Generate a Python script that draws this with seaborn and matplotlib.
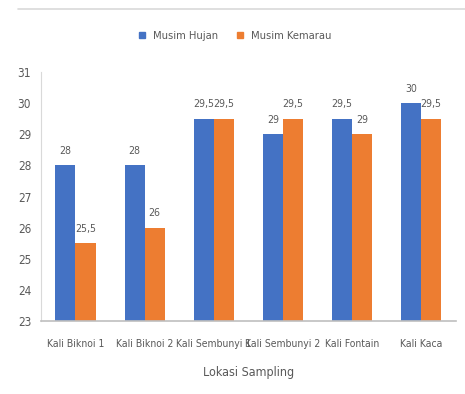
import matplotlib
matplotlib.use("Agg")
import matplotlib.pyplot as plt
import seaborn as sns
import pandas as pd
from matplotlib.lines import Line2D

categories = ["Kali Biknoi 1", "Kali Biknoi 2", "Kali Sembunyi 1", "Kali Sembunyi 2", "Kali Fontain", "Kali Kaca"]
hujan = [28, 28, 29.5, 29, 29.5, 30]
kemarau = [25.5, 26, 29.5, 29.5, 29, 29.5]
series = ["Musim Hujan", "Musim Kemarau"]
yticks = [23, 24, 25, 26, 27, 28, 29, 30, 31]

df = pd.DataFrame({
    "Lokasi": categories * 2,
    "Nilai": hujan + kemarau,
    "Musim": [series[0]] * len(categories) + [series[1]] * len(categories),
})

sns.set_style("white")
plt.rcParams['font.family'] = ['DejaVu Sans']
plt.rcParams['font.stretch'] = 'condensed'
txt = "#595959"

fig = plt.figure(figsize=(4.65, 3.94), dpi=100)
ax = fig.add_axes([0.088, 0.185, 0.892, 0.632])
sns.barplot(data=df, x="Lokasi", y="Nilai", hue="Musim", ax=ax,
            palette=["#4472C4", "#ED7D31"], width=0.58, saturation=1, legend=False,
            linewidth=0, edgecolor="none")

ax.set_ylim(23, 31)
ax.set_yticks(yticks)
ax.set_yticklabels([str(t) for t in yticks], color=txt, fontsize=8.5)
ax.tick_params(axis='x', colors=txt, labelsize=7.5, length=0, pad=13)
ax.tick_params(axis='y', length=0, pad=7)
for s in ["top", "right"]:
    ax.spines[s].set_visible(False)
ax.spines["left"].set_color("#D9D9D9")
ax.spines["bottom"].set_color("#BFBFBF")
ax.spines["left"].set_linewidth(0.8)
ax.spines["bottom"].set_linewidth(1.2)
ax.set_xlabel("Lokasi Sampling", color=txt, fontsize=9, labelpad=12)
ax.set_ylabel("")

for cont in ax.containers:
    labels = [("%g" % b.get_height()).replace(".", ",") for b in cont]
    ax.bar_label(cont, labels=labels, padding=7, color=txt, fontsize=7.6)

handles = [Line2D([], [], marker='s', linestyle='', color=c, markersize=5) for c in ["#4472C4", "#ED7D31"]]
fig.legend(handles, series, loc='center', bbox_to_anchor=(0.497, 0.908), ncol=2, frameon=False,
           fontsize=8, handletextpad=0.0, columnspacing=1.0, labelcolor=txt)

fig.add_artist(Line2D([18 / 465, 1.0], [1 - 9 / 394, 1 - 9 / 394], transform=fig.transFigure,
                      color="#D9D9D9", linewidth=1.2))

fig.savefig("out.png", dpi=100)
